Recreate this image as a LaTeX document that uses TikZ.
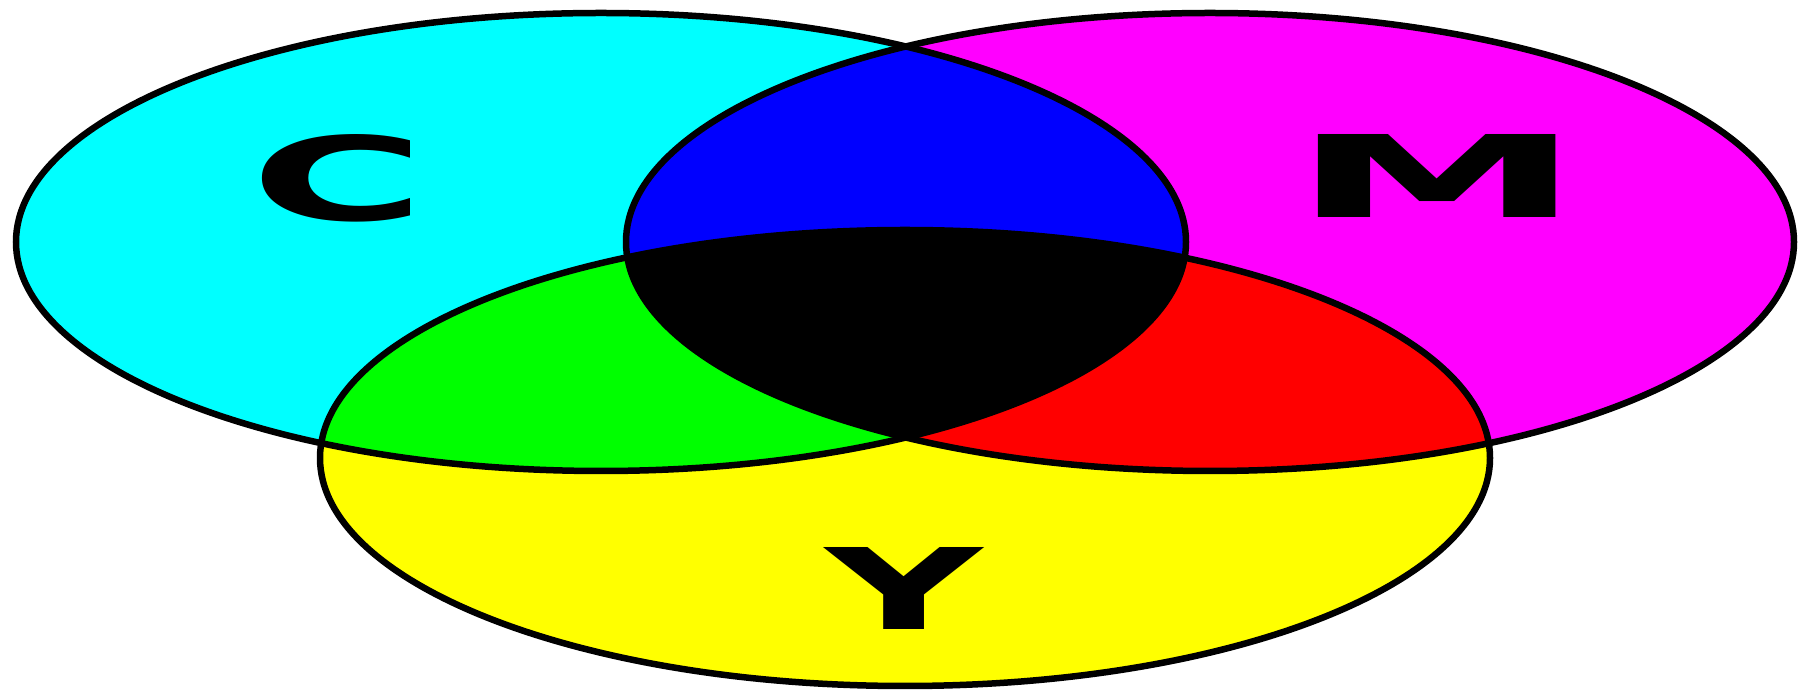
\documentclass[tikz,border=0pt]{standalone}
\usepackage{fontspec}
\setmainfont{DejaVu Sans}
\definecolor{cC}{RGB}{0,255,255}
\definecolor{cM}{RGB}{255,0,255}
\definecolor{cY}{RGB}{255,255,0}
\definecolor{cB}{RGB}{0,0,255}
\definecolor{cG}{RGB}{0,255,0}
\definecolor{cR}{RGB}{255,0,0}
\begin{document}
\begin{tikzpicture}[x=1pt,y=1pt,
  edge/.style={draw=black,line width=6.5pt},
  lbl/.style={inner sep=0pt,text=black}]
\useasboundingbox (0,0) rectangle (1800,690);
\def\elC{(601,448) ellipse [x radius=585, y radius=229]}
\def\elM{(1210,448) ellipse [x radius=584, y radius=229]}
\def\elY{(905,232) ellipse [x radius=585, y radius=228]}
% base fills
\fill[cC] \elC;
\fill[cM] \elM;
\fill[cY] \elY;
% pairwise overlaps
\begin{scope}\clip \elC; \fill[cB] \elM; \end{scope}
\begin{scope}\clip \elC; \fill[cG] \elY; \end{scope}
\begin{scope}\clip \elM; \fill[cR] \elY; \end{scope}
% triple overlap
\begin{scope}\clip \elC; \clip \elM; \fill[black] \elY; \end{scope}
% outlines
\draw[edge] \elC;
\draw[edge] \elM;
\draw[edge] \elY;
% labels
\node[lbl] (C) at (338,512) {\resizebox{175pt}{86pt}{\bfseries C}};
\node[lbl] (M) at (1437,514) {\resizebox{291pt}{83pt}{\bfseries M}};
\node[lbl] (Y) at (904,101) {\resizebox{157pt}{82pt}{\bfseries Y}};
\end{tikzpicture}
\end{document}
